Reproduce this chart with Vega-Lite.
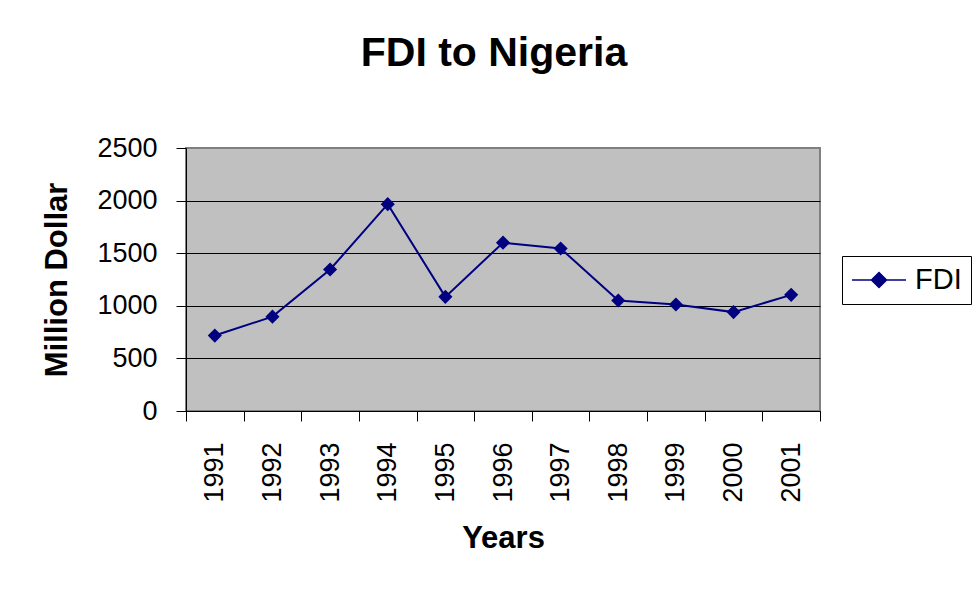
{
  "$schema": "https://vega.github.io/schema/vega-lite/v6.json",
  "width": 634,
  "height": 263,
  "autosize": {"type": "none"},
  "padding": {"left": 186, "top": 148, "right": 152, "bottom": 179},
  "background": "white",
  "title": {
    "text": "FDI to Nigeria",
    "font": "Liberation Sans",
    "fontSize": 41,
    "fontWeight": "bold",
    "color": "black",
    "anchor": "middle",
    "frame": "group",
    "dx": -9,
    "offset": 59
  },
  "data": {
    "values": [
      {"year": "1991", "fdi": 717, "series": "FDI"},
      {"year": "1992", "fdi": 897, "series": "FDI"},
      {"year": "1993", "fdi": 1345, "series": "FDI"},
      {"year": "1994", "fdi": 1966, "series": "FDI"},
      {"year": "1995", "fdi": 1085, "series": "FDI"},
      {"year": "1996", "fdi": 1600, "series": "FDI"},
      {"year": "1997", "fdi": 1545, "series": "FDI"},
      {"year": "1998", "fdi": 1050, "series": "FDI"},
      {"year": "1999", "fdi": 1012, "series": "FDI"},
      {"year": "2000", "fdi": 940, "series": "FDI"},
      {"year": "2001", "fdi": 1104, "series": "FDI"}
    ]
  },
  "encoding": {
    "x": {
      "field": "year",
      "type": "ordinal",
      "title": "Years",
      "scale": {"paddingInner": 0, "paddingOuter": 0},
      "axis": {
        "labelAngle": -90,
        "tickBand": "extent",
        "tickSize": 10,
        "labelPadding": 21,
        "titlePadding": 21,
        "titleFontSize": 31
      }
    },
    "y": {
      "field": "fdi",
      "type": "quantitative",
      "title": "Million Dollar",
      "scale": {"domain": [0, 2500], "nice": false},
      "axis": {
        "values": [0, 500, 1000, 1500, 2000, 2500],
        "format": "d",
        "tickSize": 10,
        "labelPadding": 19,
        "titlePadding": 23,
        "titleFontSize": 31,
        "grid": true,
        "gridColor": {"condition": {"test": "datum.value === 2500", "value": "#808080"}, "value": "black"},
        "gridWidth": 1
      }
    },
    "color": {
      "field": "series",
      "type": "nominal",
      "title": null,
      "scale": {"range": ["#000080"]},
      "legend": {
        "orient": "none",
        "legendX": 656,
        "legendY": 108,
        "symbolType": "M-1.93,0H1.93M-0.54,0L0,-0.54L0.54,0L0,0.54Z",
        "symbolSize": 784,
        "symbolStrokeWidth": 1.5,
        "symbolFillColor": "#000080",
        "symbolStrokeColor": "#000080",
        "symbolOffset": 13,
        "labelFont": "Liberation Sans",
        "labelFontSize": 29,
        "labelColor": "black",
        "labelOffset": 21,
        "padding": 9,
        "strokeColor": "black",
        "fillColor": "white",
        "labelLimit": 200
      }
    }
  },
  "layer": [
    {"mark": {"type": "line", "strokeWidth": 2}},
    {"mark": {"type": "point", "shape": "diamond", "filled": true, "size": 200, "opacity": 1}}
  ],
  "config": {
    "view": {"fill": "#c0c0c0", "stroke": "#808080", "strokeWidth": 2},
    "axis": {
      "domainColor": "black",
      "tickColor": "black",
      "labelColor": "black",
      "titleColor": "black",
      "labelFont": "Liberation Sans",
      "titleFont": "Liberation Sans",
      "labelFontSize": 27,
      "titleFontSize": 27,
      "titleFontWeight": "bold",
      "domainWidth": 1,
      "tickWidth": 1
    }
  }
}
